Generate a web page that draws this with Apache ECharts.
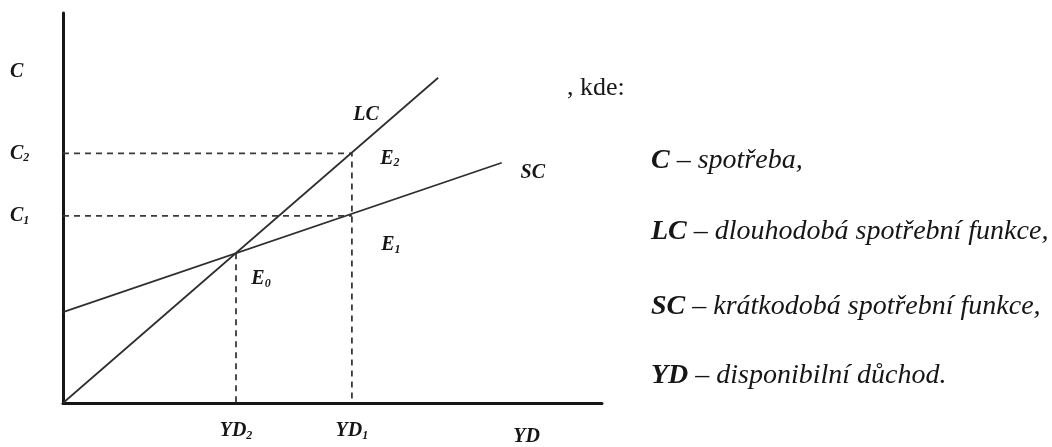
<!DOCTYPE html>
<html><head><meta charset="utf-8">
<script src="https://cdn.jsdelivr.net/npm/echarts@6/dist/echarts.min.js"></script>
<style>html,body{margin:0;padding:0;background:#fff}#c{width:1052px;height:447px}</style>
</head><body><div id="c"></div>
<script>
// ---- data ----
const xTickValues = [32.1, 53.6, 86];
const xTickLabels = ['{m|YD}{s|2}', '{m|YD}{s|1}', '{n|YD}'];
const yTickValues = [48, 64, 85];
const yTickLabels = ['{m|C}{s|1}', '{m|C}{s|2}', '{m|C}'];
const lcLine = [[0, 0], [69.6, 83.4]];
const scLine = [[0, 23.3], [81.4, 61.6]];
const pointNames = ['E0', 'E1', 'E2'];
const pointX = [32.1, 53.6, 53.6];
const pointY = [38.4, 48, 64];
const legendCodes = ['C', 'LC', 'SC', 'YD'];
const legendTexts = ['spotřeba,', 'dlouhodobá spotřební funkce,', 'krátkodobá spotřební funkce,', 'disponibilní důchod.'];
const introText = ', kde:';

// ---- styles ----
const SERIF = '"Liberation Serif", "DejaVu Serif", serif';
const INK = '#161616';
const labRich = {
  m: {fontFamily: SERIF, fontStyle: 'italic', fontWeight: 'bold', fontSize: 20, color: INK, lineHeight: 22, textBorderWidth: 0},
  n: {fontFamily: SERIF, fontStyle: 'italic', fontWeight: 'bold', fontSize: 20, color: INK, lineHeight: 22, padding: [12, 0, 0, 0], textBorderWidth: 0},
  s: {fontFamily: SERIF, fontStyle: 'italic', fontWeight: 'bold', fontSize: 12, color: INK, lineHeight: 22, verticalAlign: 'bottom', textBorderWidth: 0}
};
const subLabel = n => '{m|' + n.charAt(0) + '}{s|' + n.slice(1) + '}';
const pointOffsets = [[25, 26], [39, 29], [38, 5]];
const baseLabel = {show: true, position: 'inside', color: INK, textBorderWidth: 0, opacity: 1, rich: labRich};

const dashStyle = {color: '#3a3a3a', width: 1.8, type: [6, 5]};
const solidStyle = {color: '#2e2e2e', width: 1.7};

const guideSeries = [
  [[0, pointY[2]], [pointX[2], pointY[2]], [pointX[2], 0]],
  [[0, pointY[1]], [pointX[1], pointY[1]]],
  [[pointX[0], pointY[0]], [pointX[0], 0]]
].map(d => ({type: 'line', data: d, symbol: 'none', lineStyle: dashStyle, silent: true, z: 1}));

const legendY = [161, 232, 307, 376];
const graphics = [{
  type: 'text', x: 567, y: 88,
  style: {text: introText, font: '26px ' + SERIF, fill: INK, textVerticalAlign: 'middle'}
}].concat(legendCodes.map((c, i) => ({
  type: 'text', x: 651, y: legendY[i],
  style: {
    text: '{b|' + c + '}{d| – }{i|' + legendTexts[i] + '}',
    textVerticalAlign: 'middle',
    rich: {
      b: {fontFamily: SERIF, fontStyle: 'italic', fontWeight: 'bold', fontSize: 28, fill: INK},
      d: {fontFamily: SERIF, fontSize: 28, fill: INK},
      i: {fontFamily: SERIF, fontStyle: 'italic', fontSize: 28, fill: INK}
    }
  }
})));

const chart = echarts.init(document.getElementById('c'), null, {renderer: 'canvas'});
chart.setOption({
  animation: false,
  backgroundColor: '#fff',
  grid: {left: 63, right: 450, top: 13, bottom: 43},
  xAxis: {
    type: 'value', min: 0, max: 100,
    axisLine: {show: true, onZero: false, lineStyle: {color: INK, width: 3}},
    axisTick: {show: false}, splitLine: {show: false},
    axisLabel: {
      customValues: xTickValues, margin: 17, color: INK,
      formatter: v => xTickLabels[xTickValues.indexOf(v)] || '',
      rich: labRich
    }
  },
  yAxis: {
    type: 'value', min: 0, max: 100,
    axisLine: {show: true, onZero: false, lineStyle: {color: INK, width: 3}},
    axisTick: {show: false}, splitLine: {show: false},
    axisLabel: {
      customValues: yTickValues, margin: 53, align: 'left', color: INK,
      formatter: v => yTickLabels[yTickValues.indexOf(v)] || '',
      rich: labRich
    }
  },
  series: guideSeries.concat([
    {type: 'line', name: 'LC', data: lcLine, symbol: 'none', lineStyle: solidStyle, z: 2},
    {type: 'line', name: 'SC', data: scLine, symbol: 'none', lineStyle: solidStyle, z: 2},
    {
      type: 'scatter', symbolSize: 0, z: 5, silent: true,
      itemStyle: {color: INK, opacity: 1},
      data: pointNames.map((n, i) => ({
        value: [pointX[i], pointY[i]],
        label: Object.assign({}, baseLabel, {offset: pointOffsets[i], formatter: subLabel(n)})
      })).concat([
        {value: lcLine[1], label: Object.assign({}, baseLabel, {offset: [-72, 37], formatter: '{m|LC}'})},
        {value: scLine[1], label: Object.assign({}, baseLabel, {offset: [31, 10], formatter: '{m|SC}'})}
      ])
    }
  ]),
  graphic: graphics
});
</script>
</body></html>
